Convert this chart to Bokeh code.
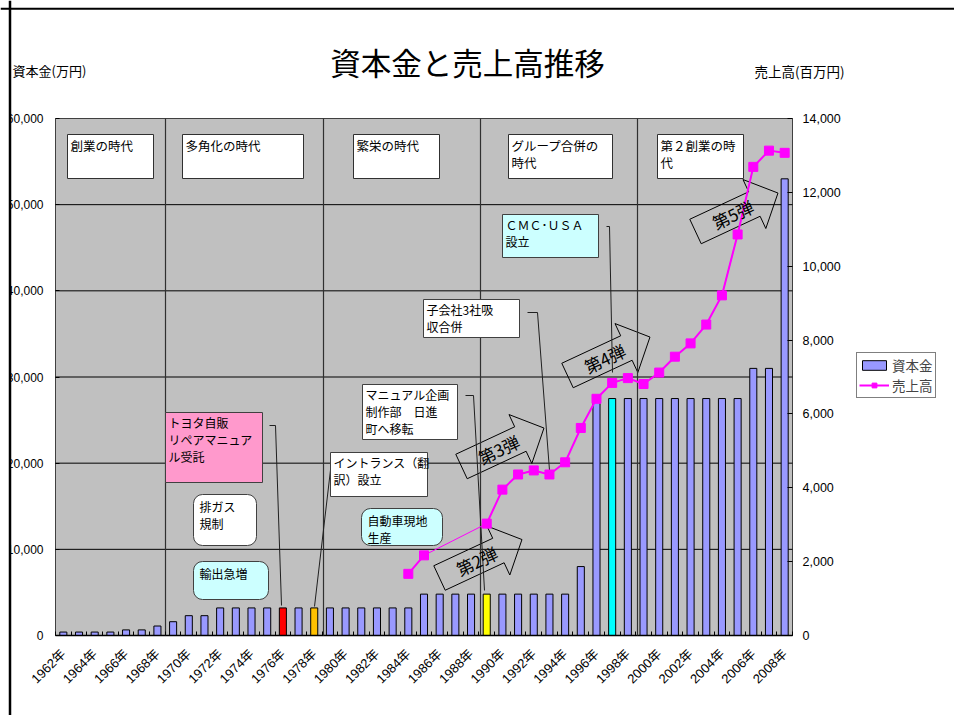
import math
import numpy as np
from bokeh.plotting import figure
from bokeh.models import (Range1d, LinearAxis, FixedTicker, NumeralTickFormatter,
                          PrintfTickFormatter, ColumnDataSource, Legend, LegendItem,
                          Label, BoxAnnotation, Span)
from bokeh.embed import file_html
from bokeh.resources import INLINE

# ---------------- data ----------------
years = list(range(1962, 2009))
capital = ([400] * 4 + [650] * 2 + [1100, 1600] + [2300] * 2 + [3200] * 13 +
           [4800] * 10 + [8000] + [27500] * 10 + [31000, 31000, 53000])
nan = float("nan")
sales = ([nan] * 22 + [1670, 2170] + [nan] * 3 +
         [3030, 3950, 4360, 4470, 4360, 4690, 5620, 6410, 6840, 6970, 6810,
          7120, 7550, 7910, 8420, 9210, 10860, 12690, 13130, 13070])
highlight = {1976: "#FF0000", 1978: "#FFC000", 1989: "#FFFF00", 1997: "#00FFFF"}
left_ticks = list(range(0, 60001, 10000))
right_ticks = list(range(0, 14001, 2000))
label_years = years[::2]

title_text = "資本金と売上高推移"
left_title = "資本金(万円)"
right_title = "売上高(百万円)"
series_names = ["資本金", "売上高"]

era_boxes = [
    ("創業の時代", 67, 134, 153, 178),
    ("多角化の時代", 182, 134, 303, 178),
    ("繁栄の時代", 353, 134, 439, 178),
    ("グループ合併の\n時代", 508, 134, 612, 178),
    ("第２創業の時\n代", 657, 134, 743, 178),
]
callouts = [
    ("トヨタ自販\nリペアマニュア\nル受託", 165, 412, 262, 482, "#FF99CC", 0),
    ("排ガス\n規制", 193, 494, 256, 545, "white", 9),
    ("輸出急増", 193, 561, 268, 599, "#CCFFFF", 9),
    ("イントランス（翻\n訳）設立", 330, 452, 427, 496, "white", 0),
    ("自動車現地\n生産", 361, 508, 442, 545, "#CCFFFF", 9),
    ("マニュアル企画\n制作部　日進\n町へ移転", 362, 384, 457, 439, "white", 0),
    ("子会社3社吸\n収合併", 423, 299, 519, 337, "white", 0),
    ("ＣＭＣ･ＵＳＡ\n設立", 502, 214, 598, 257, "#CCFFFF", 0),
]
connectors = [
    [(269, 425), (275, 425), (281, 605)],
    [(331, 461), (314, 606)],
    [(465, 395), (473, 395), (484, 590)],
    [(527, 312), (537, 312), (549, 470)],
    [(606, 226), (609, 226), (612, 372)],
]
arrows = [("第2弾", 439, 577.5), ("第3弾", 461, 466), ("第4弾", 567, 375), ("第5弾", 695, 231)]
era_lines = [165, 323, 480, 637]

JP = "Noto Sans CJK JP"
NUM = "Liberation Sans"

# canvas size and plot area in page pixels
W, H = 954, 715
FL, FR, FT, FB = 55, 792, 118, 635
X0, X1 = years[0] - 0.5, years[-1] + 0.5
YMAX, SMAX = left_ticks[-1], right_ticks[-1]


def X(px):
    return X0 + (px - FL) * (X1 - X0) / (FR - FL)


def Y(py):
    return (FB - py) * YMAX / (FB - FT)


def S(py):
    return (FB - py) * SMAX / (FB - FT)


p = figure(width=W, height=H,
           x_range=Range1d(X(0), X(W)), y_range=Range1d(Y(H), Y(0)),
           output_backend="svg", toolbar_location=None, title=None,
           min_border=0, background_fill_color="white",
           border_fill_color="white", outline_line_color=None)
p.extra_y_ranges = {"sales": Range1d(S(H), S(0))}
p.xgrid.visible = False
p.ygrid.visible = False

# plot area background
p.add_layout(BoxAnnotation(left=X0, right=X1, bottom=0, top=YMAX, level="underlay",
                           fill_color="#C0C0C0", fill_alpha=1,
                           line_color="#404040", line_alpha=1, line_width=1))

# x axis
xa = p.xaxis[0]
xa.fixed_location = 0
xa.ticker = FixedTicker(ticks=label_years,
                        minor_ticks=[y - 0.5 for y in years] + [X1])
xa.formatter = PrintfTickFormatter(format="%d年")
xa.major_label_orientation = math.pi / 4
xa.major_tick_line_color = None
xa.minor_tick_in = 4
xa.minor_tick_out = 0
xa.minor_tick_line_color = "black"
xa.major_label_standoff = 10
xa.major_label_text_font = f"{NUM}, {JP}"
xa.major_label_text_font_size = "13px"
xa.major_label_text_color = "black"
xa.axis_line_color = None

# left axis
ya = p.yaxis[0]
ya.fixed_location = X0
ya.ticker = FixedTicker(ticks=left_ticks)
ya.formatter = NumeralTickFormatter(format="0,0")
ya.minor_tick_line_color = None
ya.major_tick_in = 4
ya.major_tick_out = 0
ya.major_label_standoff = 12
ya.major_label_text_font = NUM
ya.major_label_text_font_size = "12px"
ya.major_label_text_color = "black"
ya.axis_line_color = None

# right axis
ra = LinearAxis(y_range_name="sales", fixed_location=X1,
                ticker=FixedTicker(ticks=right_ticks),
                formatter=NumeralTickFormatter(format="0,0"))
ra.minor_tick_line_color = None
ra.major_tick_in = 5
ra.major_tick_out = 0
ra.major_label_standoff = 10
ra.major_label_text_font = NUM
ra.major_label_text_font_size = "12.5px"
ra.major_label_text_color = "black"
ra.axis_line_color = None
p.add_layout(ra, "right")

# horizontal gridlines (left-axis ticks)
inner = left_ticks[1:-1]
p.segment(x0=[X0] * len(inner), x1=[X1] * len(inner), y0=inner, y1=inner,
          line_color="black", line_width=1)

# era boxes
for text, l, t, r, b in era_boxes:
    p.add_layout(BoxAnnotation(left=X(l), right=X(r), top=Y(t), bottom=Y(b),
                               fill_color="white", fill_alpha=1,
                               line_color="#303030", line_alpha=1, line_width=1))
    p.add_layout(Label(x=X(l + 3), y=Y(t + 1), text=text, text_font=JP,
                       text_font_size="12.5px", text_align="left",
                       text_baseline="top", text_line_height=0.9,
                       text_color="black"))


# arrows (outlined block arrows)
def arrow_pts(tx, ty, deg, L=91, h=27, Hd=54, hl=26):
    a = math.radians(deg)
    ux, uy = math.cos(a), -math.sin(a)
    nx, ny = math.sin(a), math.cos(a)

    def pt(d, o):
        return (tx + ux * d + nx * o, ty + uy * d + ny * o)
    pts = [pt(0, -h / 2), pt(L - hl, -h / 2), pt(L - hl, -Hd / 2), pt(L, 0),
           pt(L - hl, Hd / 2), pt(L - hl, h / 2), pt(0, h / 2)]
    return pts, pt(41, 0)


for text, tx, ty in arrows:
    pts, c = arrow_pts(tx, ty, 25)
    p.patch([X(q[0]) for q in pts], [Y(q[1]) for q in pts],
            fill_color=None, line_color="black", line_width=1)
    p.add_layout(Label(x=X(c[0]), y=Y(c[1]), text=text, angle=25, angle_units="deg",
                       text_font=JP, text_font_size="17px", text_align="center",
                       text_baseline="middle", text_color="black"))

# bars
colors = [highlight.get(y, "#9999FF") for y in years]
src = ColumnDataSource(dict(year=years, capital=capital, color=colors))
bars = p.vbar(x="year", top="capital", width=0.45, source=src,
              fill_color="color", line_color="black", line_width=1)

# baseline
p.segment(x0=[X0], x1=[X1], y0=[0], y1=[0], line_color="black", line_width=1.5)

# era dividers
p.segment(x0=[X(v) for v in era_lines], x1=[X(v) for v in era_lines],
          y0=[0] * len(era_lines), y1=[YMAX] * len(era_lines),
          line_color="#303030", line_width=1.2)

# connectors
for pts in connectors:
    p.line([X(q[0]) for q in pts], [Y(q[1]) for q in pts],
           line_color="#202020", line_width=1)

# sales line
sales_arr = np.array(sales, dtype=float)
yrs_arr = np.array(years, dtype=float)
ok = ~np.isnan(sales_arr)
p.line(yrs_arr[ok], sales_arr[ok], y_range_name="sales",
       line_color="#FF00FF", line_width=1)
sline = p.line(yrs_arr, sales_arr, y_range_name="sales",
               line_color="#FF00FF", line_width=2)
smark = p.scatter(yrs_arr[ok], sales_arr[ok], y_range_name="sales", marker="square",
                  size=9, fill_color="#FF00FF", line_color="#FF00FF")

# callout boxes
for text, l, t, r, b, fc, rad in callouts:
    p.add_layout(BoxAnnotation(left=X(l), right=X(r), top=Y(t), bottom=Y(b),
                               fill_color=fc, fill_alpha=1, border_radius=rad,
                               line_color="#404040", line_alpha=1, line_width=1))
    pad_x = 6 if rad else 3
    pad_y = 3 if rad else 1
    p.add_layout(Label(x=X(l + pad_x), y=Y(t + pad_y), text=text, text_font=JP,
                       text_font_size="12px", text_align="left",
                       text_baseline="top", text_line_height=1.0,
                       text_color="black"))

# page margin to the left of the chart border
p.add_layout(BoxAnnotation(left=X(0), right=X(8.5), bottom=Y(H), top=Y(0),
                           fill_color="white", fill_alpha=1, line_color=None))

# titles
p.add_layout(Label(x=X(467), y=Y(61), text=title_text, text_font=JP,
                   text_font_size="30.5px", text_align="center",
                   text_baseline="middle", text_color="black"))
p.add_layout(Label(x=X(12), y=Y(70), text=left_title, text_font=JP,
                   text_font_size="13px", text_align="left",
                   text_baseline="middle", text_color="black"))
p.add_layout(Label(x=X(754), y=Y(70), text=right_title, text_font=JP,
                   text_font_size="13.5px", text_align="left",
                   text_baseline="middle", text_color="black"))

# chart border (left and top edges)
p.add_layout(Span(location=X(9.5), dimension="height", line_color="black", line_width=2.5))
p.add_layout(Span(location=Y(8.3), dimension="width", line_color="black", line_width=2))

legend = Legend(items=[LegendItem(label=series_names[0], renderers=[bars]),
                       LegendItem(label=series_names[1], renderers=[sline, smark])],
                location=(856, H - 398), label_text_font=JP, label_text_font_size="13.5px",
                glyph_width=30, glyph_height=12, label_standoff=3, label_height=16,
                spacing=0, padding=2, margin=0, border_line_color="black",
                border_line_width=1, background_fill_color="white",
                background_fill_alpha=1)
p.add_layout(legend, "center")

open("out.html", "w").write(file_html(p, INLINE))
